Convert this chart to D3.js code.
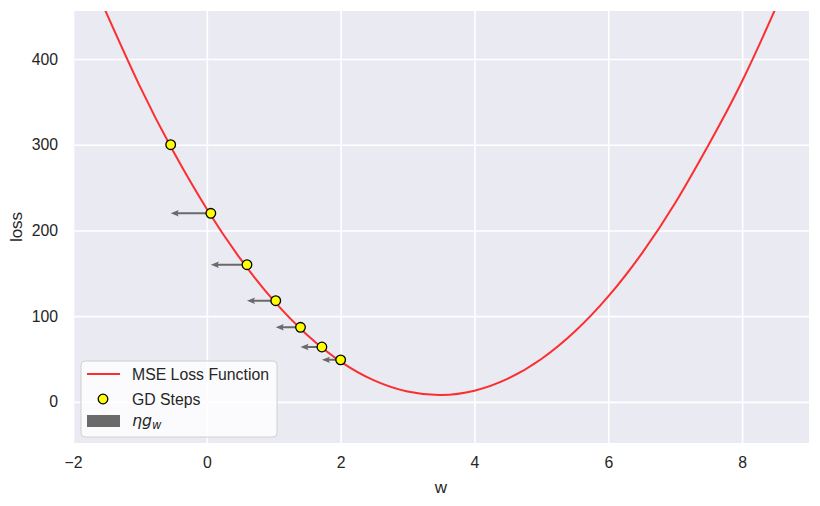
<!DOCTYPE html>
<html>
<head>
<meta charset="utf-8">
<script src="https://cdn.jsdelivr.net/npm/d3@7"></script>
<style>
  body { margin: 0; background: #fff; }
  text { font-family: "Liberation Sans", Arial, sans-serif; fill: #262626; }
</style>
</head>
<body>
<svg id="chart" width="820" height="506"></svg>
<script>
// loss curve
const curveW    = [-1.6, -1.0, -0.5, 0.0, 0.5, 1.0, 1.5, 2.0, 2.5, 3.0, 3.5, 4.0, 4.5, 5.0, 5.5, 6.0, 6.5, 7.0, 7.5, 8.0, 8.5, 8.6];
const curveLoss = [471, 368, 292, 225, 167, 118, 78, 47, 25, 12, 8, 13, 27, 50, 82, 123, 173, 232, 300, 374, 459, 478];

// gradient descent steps
const stepW    = [-0.54, 0.06, 0.60, 1.03, 1.40, 1.72, 2.00];
const stepLoss = [300, 220, 160, 118, 87, 64, 49];

const xTicks = [-2, 0, 2, 4, 6, 8];
const yTicks = [0, 100, 200, 300, 400];
const legendLabels = ["MSE Loss Function", "GD Steps"];

const width = 820, height = 506;
const margin = {top: 11, right: 11, bottom: 63, left: 73};

const svg = d3.select("#chart");
const x = d3.scaleLinear().domain([-2, 9]).range([margin.left, width - margin.right]);
const y = d3.scaleLinear().domain([-48, 456]).range([height - margin.bottom, margin.top]);

const lineColor = "#fb2f30";
const arrowColor = "#6a6a6a";
const fontSize = 15.8;

// background
svg.append("rect")
    .attr("x", margin.left).attr("y", margin.top)
    .attr("width", x.range()[1] - x.range()[0])
    .attr("height", y.range()[0] - y.range()[1])
    .attr("fill", "#eaeaf2");

svg.append("clipPath").attr("id", "clip")
  .append("rect")
    .attr("x", margin.left).attr("y", margin.top)
    .attr("width", x.range()[1] - x.range()[0])
    .attr("height", y.range()[0] - y.range()[1]);

// grid + tick labels
const xAxis = svg.append("g")
    .attr("transform", `translate(0, ${y.range()[0]})`)
    .call(d3.axisBottom(x).tickValues(xTicks).tickSize(-(y.range()[0] - y.range()[1])).tickPadding(14)
          .tickFormat(d => d < 0 ? "\u2212" + Math.abs(d) : d));
xAxis.select(".domain").remove();
xAxis.selectAll(".tick line").attr("stroke", "#fff").attr("stroke-width", 1.6);
xAxis.selectAll(".tick text").attr("font-size", fontSize).attr("fill", "#262626")
    .style("font-family", '"Liberation Sans", Arial, sans-serif');

const yAxis = svg.append("g")
    .attr("transform", `translate(${margin.left}, 0)`)
    .call(d3.axisLeft(y).tickValues(yTicks).tickSize(-(x.range()[1] - x.range()[0])).tickPadding(15));
yAxis.select(".domain").remove();
yAxis.selectAll(".tick line").attr("stroke", "#fff").attr("stroke-width", 1.6);
yAxis.selectAll(".tick text").attr("font-size", fontSize).attr("fill", "#262626")
    .style("font-family", '"Liberation Sans", Arial, sans-serif');

// axis labels
svg.append("text")
    .attr("x", (x.range()[0] + x.range()[1]) / 2).attr("y", 493)
    .attr("text-anchor", "middle").attr("font-size", 17)
    .text("w");
svg.append("text")
    .attr("transform", `translate(22, ${(y.range()[0] + y.range()[1]) / 2}) rotate(-90)`)
    .attr("text-anchor", "middle").attr("font-size", 17)
    .text("loss");

const plot = svg.append("g").attr("clip-path", "url(#clip)");

// loss curve
const curveData = curveW.map((w, i) => [w, curveLoss[i]]);
plot.append("path")
    .datum(curveData)
    .attr("fill", "none")
    .attr("stroke", lineColor)
    .attr("stroke-width", 2)
    .attr("d", d3.line().x(d => x(d[0])).y(d => y(d[1])).curve(d3.curveNatural));

// arrows: each step points back to the previous w
function arrowPath(x0, x1, yy) {
    const sw = 1, hl = 8, hb = 7, hw = 3.2;
    const dir = x1 < x0 ? -1 : 1;
    const back = x1 - dir * hb;
    const neck = x1 - dir * hl;
    return `M${x0},${yy - sw}L${back},${yy - sw}L${neck},${yy - hw}L${x1},${yy}` +
           `L${neck},${yy + hw}L${back},${yy + sw}L${x0},${yy + sw}Z`;
}
const arrows = stepW.slice(1).map((w, i) => ({w0: w, w1: stepW[i], loss: stepLoss[i + 1]}));
plot.append("g")
    .selectAll("path")
    .data(arrows)
    .enter()
    .append("path")
    .attr("d", d => arrowPath(x(d.w0), x(d.w1), y(d.loss)))
    .attr("fill", arrowColor);

// GD points
plot.append("g")
    .selectAll("circle")
    .data(stepW.map((w, i) => [w, stepLoss[i]]))
    .enter()
    .append("circle")
    .attr("cx", d => x(d[0]))
    .attr("cy", d => y(d[1]))
    .attr("r", 4.8)
    .attr("fill", "#ffff00")
    .attr("stroke", "#000")
    .attr("stroke-width", 1.3);

// legend
const lg = svg.append("g").attr("transform", "translate(81, 361)");
lg.append("rect")
    .attr("width", 196).attr("height", 76).attr("rx", 4)
    .attr("fill", "rgba(255,255,255,0.8)")
    .attr("stroke", "#d0d0d0").attr("stroke-width", 1);
lg.append("line")
    .attr("x1", 6).attr("x2", 39).attr("y1", 13).attr("y2", 13)
    .attr("stroke", lineColor).attr("stroke-width", 2);
lg.append("circle")
    .attr("cx", 22).attr("cy", 38).attr("r", 4.8)
    .attr("fill", "#ffff00").attr("stroke", "#000").attr("stroke-width", 1.3);
lg.append("rect")
    .attr("x", 6).attr("y", 54).attr("width", 33).attr("height", 12)
    .attr("fill", arrowColor);
lg.selectAll("text.lab")
    .data(legendLabels)
    .enter()
    .append("text")
    .attr("class", "lab")
    .attr("x", 51)
    .attr("y", (d, i) => 18.5 + i * 25)
    .attr("font-size", fontSize)
    .text(d => d);
const eta = lg.append("text")
    .attr("x", 51).attr("y", 65)
    .attr("font-size", fontSize)
    .style("font-family", '"DejaVu Sans", sans-serif')
    .style("font-style", "italic");
eta.append("tspan").text("\u03b7g");
eta.append("tspan").attr("dy", 3).attr("font-size", 11.5).text("w");
</script>
</body>
</html>
